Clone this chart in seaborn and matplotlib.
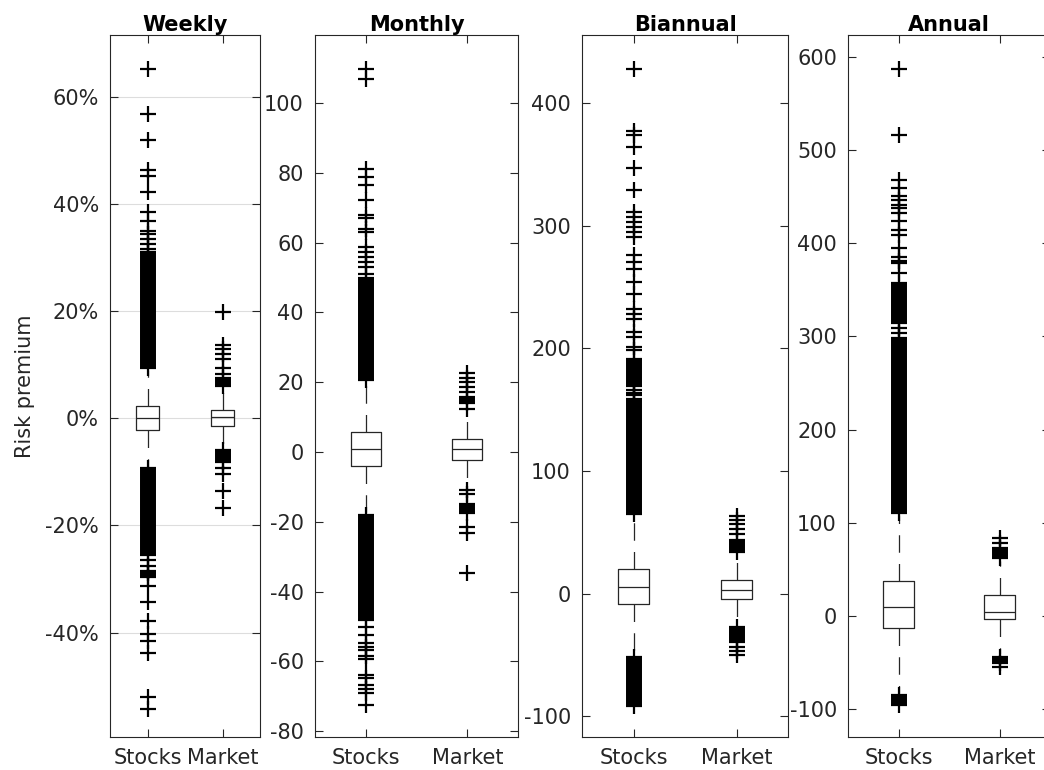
import numpy as np
import pandas as pd
import matplotlib
matplotlib.use("Agg")
import matplotlib.pyplot as plt
import seaborn as sns
from matplotlib.ticker import FuncFormatter, MultipleLocator

# -----------------------------------
# DATA
# -----------------------------------

periods = ["Weekly", "Monthly", "Biannual", "Annual"]
groups = ["Stocks", "Market"]

# box summaries: lower whisker, q1, median, q3, upper whisker
weekly_stocks_box = [-9.0, -2.2, 0.1, 2.4, 9.0]
weekly_market_box = [-5.6, -1.4, 0.3, 1.5, 5.7]
monthly_stocks_box = [-18.0, -4.0, 0.8, 5.8, 20.0]
monthly_market_box = [-10.5, -2.3, 0.9, 3.7, 11.5]
biannual_stocks_box = [-50.0, -8.4, 5.2, 20.1, 61.0]
biannual_market_box = [-26.0, -4.4, 3.0, 11.4, 32.0]
annual_stocks_box = [-83.0, -12.5, 10.0, 37.6, 108.0]
annual_market_box = [-41.0, -3.5, 4.0, 22.5, 59.0]

# single outliers
weekly_stocks_out = [65.3, 56.9, 51.9, 46.3, 45.3, 42.2, 38.6, 36.9, 35.0, 34.4,
                     33.5, 32.6, 31.6, -26.5, -27.5, -28.5, -31.3, -34.3,
                     -37.9, -40.2, -41.5, -43.8, -52.1, -54.2]
weekly_market_out = [19.9, 13.8, 12.9, 12.0, 11.0, 9.4, 8.2,
                     -9.2, -10.4, -13.5, -16.8]
monthly_stocks_out = [109.7, 106.9, 81.1, 78.7, 76.5, 72.2, 68.0, 67.0, 64.0,
                      63.0, 58.8, 57.4, 56.0, 54.5, 53.1, 51.0,
                      -50.2, -52.4, -54.8, -55.8, -56.9, -58.6, -59.4, -63.9,
                      -64.7, -66.8, -67.8, -69.1, -72.5]
monthly_market_out = [22.5, 21.2, 20.1, 18.7, 17.3, 12.2,
                      -11.0, -12.0, -21.4, -23.1, -34.6]
biannual_stocks_out = [427.8, 377.1, 373.9, 364.3, 347.2, 329.0, 311.3, 307.2,
                       303.1, 299.0, 294.9, 290.9, 275.9, 270.5, 265.0, 254.1,
                       244.6, 232.4, 228.3, 224.2, 213.3, 209.2, 201.1, 198.4,
                       165.7, 163.5, 161.6]
biannual_market_out = [62.9, 59.6, 56.9, 52.8, 48.7, -43.8, -46.5, -49.8]
annual_stocks_out = [586.9, 516.1, 467.8, 458.9, 451.0, 446.0, 441.0, 437.4,
                     432.1, 424.2, 414.2, 408.8, 394.5, 385.5, 381.0, 378.4,
                     367.7, 308.7, 303.3]
annual_market_out = [83.4, 78.7, -55.0]

# dense runs of outliers (low, high)
weekly_stocks_runs = [(9.4, 31.0), (-25.5, -9.3), (-29.6, -28.9)]
weekly_market_runs = [(6.0, 7.5), (-8.1, -5.9)]
monthly_stocks_runs = [(20.6, 49.8), (-48.1, -18.1)]
monthly_market_runs = [(14.0, 15.8), (-17.6, -15.0)]
biannual_stocks_runs = [(169.0, 191.6), (65.1, 158.9), (-91.4, -52.0)]
biannual_market_runs = [(33.7, 43.3), (-39.7, -27.5)]
annual_stocks_runs = [(314.0, 357.0), (110.8, 298.0), (-95.5, -84.8)]
annual_market_runs = [(61.9, 72.6), (-50.8, -43.7)]

boxes = {
    "Weekly": (weekly_stocks_box, weekly_market_box),
    "Monthly": (monthly_stocks_box, monthly_market_box),
    "Biannual": (biannual_stocks_box, biannual_market_box),
    "Annual": (annual_stocks_box, annual_market_box),
}
outliers = {
    "Weekly": (weekly_stocks_out, weekly_market_out),
    "Monthly": (monthly_stocks_out, monthly_market_out),
    "Biannual": (biannual_stocks_out, biannual_market_out),
    "Annual": (annual_stocks_out, annual_market_out),
}
runs = {
    "Weekly": (weekly_stocks_runs, weekly_market_runs),
    "Monthly": (monthly_stocks_runs, monthly_market_runs),
    "Biannual": (biannual_stocks_runs, biannual_market_runs),
    "Annual": (annual_stocks_runs, annual_market_runs),
}

# -----------------------------------
# LAYOUT / STYLE
# -----------------------------------

W, H = 1044, 770
# axes boxes in pixels: left, right, top, bottom
ax_px = {
    "Weekly": (110, 260, 35, 737),
    "Monthly": (315, 518, 35, 737),
    "Biannual": (582, 788, 35, 737),
    "Annual": (848, 1050, 35, 737),
}
ylims = {
    "Weekly": (-59.5, 71.6),
    "Monthly": (-81.7, 119.5),
    "Biannual": (-117, 455.5),
    "Annual": (-130, 623.6),
}
ysteps = {"Weekly": 20, "Monthly": 20, "Biannual": 100, "Annual": 100}

INK = "#262626"
FS = 15
MARK = 11.5      # '+' size in points
BAND_W = 11.5    # width of dense outlier runs in points

sns.set_style("ticks")
plt.rcParams["font.family"] = ["DejaVu Sans"]
plt.rcParams["axes.unicode_minus"] = False

fig = plt.figure(figsize=(W / 100, H / 100), dpi=100)

for i, period in enumerate(periods):
    l, r, t, b = ax_px[period]
    ax = fig.add_axes([l / W, 1 - b / H, (r - l) / W, (b - t) / H])

    stocks_box, market_box = boxes[period]
    box_df = pd.DataFrame({
        "group": ["Stocks"] * len(stocks_box) + ["Market"] * len(market_box),
        "value": stocks_box + market_box,
    })
    sns.boxplot(
        data=box_df, x="group", y="value", order=groups,
        whis=(0, 100), width=0.3, fill=False, color=INK, linewidth=0.9,
        whiskerprops=dict(linestyle=(0, (14, 9))),
        capprops=dict(visible=False),
        medianprops=dict(color=INK),
        ax=ax,
    )

    stocks_out, market_out = outliers[period]
    stocks_runs, market_runs = runs[period]
    fl_vals, fl_grp = [], []
    for g, singles, rr in [("Stocks", stocks_out, stocks_runs),
                           ("Market", market_out, market_runs)]:
        ends = [v for lo_hi in rr for v in lo_hi]
        fl_vals += list(singles) + ends
        fl_grp += [g] * (len(singles) + len(ends))
    fl_df = pd.DataFrame({"group": fl_grp, "value": fl_vals})
    sns.stripplot(
        data=fl_df, x="group", y="value", order=groups, jitter=False,
        marker="+", color="black", size=MARK, linewidth=1.6, ax=ax,
    )

    # dense outlier runs drawn as solid bars
    for k, rr in enumerate([stocks_runs, market_runs]):
        for lo, hi in rr:
            ax.vlines(k, lo, hi, colors="black", linewidth=BAND_W,
                      capstyle="butt")

    ax.set_xlim(-0.5, 1.5)
    ax.set_ylim(*ylims[period])
    ax.yaxis.set_major_locator(MultipleLocator(ysteps[period]))
    ax.set_xlabel("")
    ax.set_ylabel("")
    ax.set_title(period, fontsize=FS, fontweight="bold", color="black", pad=3)

    for sp in ax.spines.values():
        sp.set_visible(True)
        sp.set_color(INK)
        sp.set_linewidth(0.8)

    ax.tick_params(axis="both", direction="in", top=True, right=True,
                   length=6, width=0.8, color=INK, labelsize=FS,
                   labelcolor=INK)
    ax.tick_params(axis="y", pad=8)
    ax.tick_params(axis="x", pad=8)

    if period == "Weekly":
        ax.yaxis.set_major_formatter(FuncFormatter(lambda v, p: f"{v:.0f}%"))
        ax.yaxis.grid(True, color="#dddddd", linewidth=0.8)
        ax.set_axisbelow(True)
        ax.set_ylabel("Risk premium", fontsize=FS, color=INK, labelpad=7)

fig.savefig("out.png", dpi=100)
